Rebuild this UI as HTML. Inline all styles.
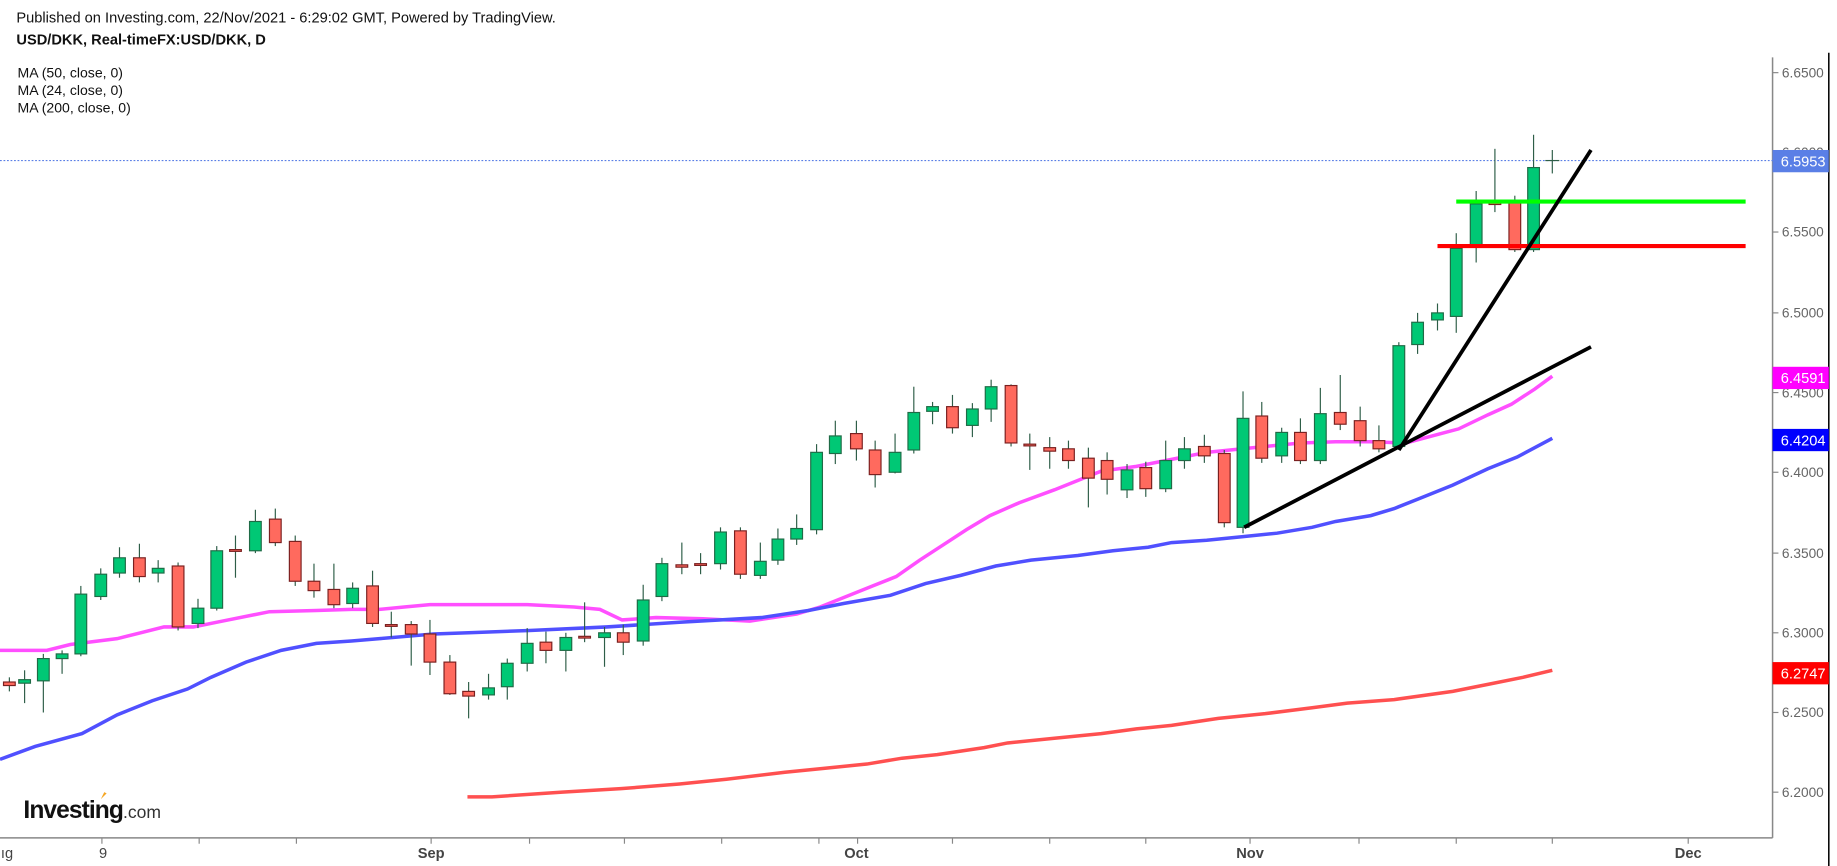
<!DOCTYPE html>
<html><head><meta charset="utf-8"><style>
html,body{margin:0;padding:0;background:#fff;}
svg{display:block;}
text{font-family:"Liberation Sans",Arial,sans-serif;}
</style></head><body>
<svg width="1837" height="866" viewBox="0 0 1568 739" preserveAspectRatio="none" xmlns="http://www.w3.org/2000/svg">
<rect width="1568" height="739" fill="#fff"/>
<text x="14" y="19" font-size="12.5" fill="#111">Published on Investing.com, 22/Nov/2021 - 6:29:02 GMT, Powered by TradingView.</text>
<text x="14" y="38" font-size="12.5" font-weight="bold" fill="#111">USD/DKK, Real-timeFX:USD/DKK, D</text>
<text x="15" y="66" font-size="12" fill="#111">MA (50, close, 0)</text>
<text x="15" y="81" font-size="12" fill="#111">MA (24, close, 0)</text>
<text x="15" y="96" font-size="12" fill="#111">MA (200, close, 0)</text>

<!-- axes -->
<line x1="1513" y1="49" x2="1513" y2="715" stroke="#888" stroke-width="1.3"/>
<line x1="1561" y1="45" x2="1561" y2="739" stroke="#000" stroke-width="1.3"/>
<line x1="0" y1="715" x2="1513" y2="715" stroke="#888" stroke-width="1.3"/>
<g stroke="#888" stroke-width="1">
<line x1="1513" y1="62" x2="1518" y2="62"/><line x1="1513" y1="130" x2="1518" y2="130"/>
<line x1="1513" y1="198" x2="1518" y2="198"/><line x1="1513" y1="267" x2="1518" y2="267"/>
<line x1="1513" y1="335" x2="1518" y2="335"/><line x1="1513" y1="403" x2="1518" y2="403"/>
<line x1="1513" y1="472" x2="1518" y2="472"/><line x1="1513" y1="540" x2="1518" y2="540"/>
<line x1="1513" y1="608" x2="1518" y2="608"/><line x1="1513" y1="676" x2="1518" y2="676"/>
<line x1="87" y1="715" x2="87" y2="720"/><line x1="170" y1="715" x2="170" y2="720"/>
<line x1="253" y1="715" x2="253" y2="720"/><line x1="368" y1="715" x2="368" y2="720"/>
<line x1="452" y1="715" x2="452" y2="720"/><line x1="533" y1="715" x2="533" y2="720"/>
<line x1="616" y1="715" x2="616" y2="720"/><line x1="699" y1="715" x2="699" y2="720"/>
<line x1="732" y1="715" x2="732" y2="720"/><line x1="813" y1="715" x2="813" y2="720"/>
<line x1="896" y1="715" x2="896" y2="720"/><line x1="978" y1="715" x2="978" y2="720"/>
<line x1="1067" y1="715" x2="1067" y2="720"/><line x1="1160" y1="715" x2="1160" y2="720"/>
<line x1="1243" y1="715" x2="1243" y2="720"/><line x1="1325" y1="715" x2="1325" y2="720"/>
<line x1="1441" y1="715" x2="1441" y2="720"/>
</g>
<g font-size="11.7" fill="#666">
<text x="1521" y="66">6.6500</text><text x="1521" y="134">6.6000</text>
<text x="1521" y="202">6.5500</text><text x="1521" y="271">6.5000</text>
<text x="1521" y="339">6.4500</text><text x="1521" y="407">6.4000</text>
<text x="1521" y="476">6.3500</text><text x="1521" y="544">6.3000</text>
<text x="1521" y="612">6.2500</text><text x="1521" y="680">6.2000</text>
</g>
<g font-size="12.5" fill="#444" text-anchor="middle">
<text x="6" y="732">ıg</text><text x="88" y="732">9</text>
<text x="368" y="732" font-weight="bold">Sep</text><text x="731" y="732" font-weight="bold">Oct</text>
<text x="1067" y="732" font-weight="bold">Nov</text><text x="1441" y="732" font-weight="bold">Dec</text>
</g>

<!-- current price line -->
<line x1="0" y1="137" x2="1513" y2="137" stroke="#5a7fe6" stroke-width="1" stroke-dasharray="1.5,1.5"/>

<!-- moving averages -->
<polyline fill="none" stroke="#ff4fff" stroke-width="3" points="0,555 40,555 60,550 100,545 120,540 140,535 165,535 190,530 230,522 270,521 300,520 324,520 345,518 367,516 400,516 450,516 490,518 512,520 531,529 560,527 600,528 640,530 680,524 700,518 720,510 745,500 765,492 785,478 805,465 825,452 845,440 870,429 900,418 925,408 940,402 970,398 1000,392 1030,386 1050,384 1080,381 1110,378 1140,377 1170,377 1200,378 1230,370 1245,366 1270,354 1290,345 1310,332 1325,321"/>
<polyline fill="none" stroke="#5050ff" stroke-width="3" points="0,648 30,637 70,626 100,610 130,598 160,588 180,578 210,565 240,555 270,549 300,547 324,545 370,541 400,540 452,538 518,535 580,531 650,527 690,521 720,515 760,508 790,498 820,491 850,483 880,478 920,474 950,470 980,467 1000,463 1030,461 1060,458 1090,455 1120,450 1140,445 1170,440 1190,434 1210,426 1240,414 1270,400 1295,390 1325,374"/>
<polyline fill="none" stroke="#ff5050" stroke-width="3" points="399,680 420,680 480,676 530,673 580,669 620,665 670,659 700,656 740,652 770,647 800,644 840,638 860,634 900,630 940,626 970,622 1000,619 1040,613 1080,609 1120,604 1150,600 1190,597 1240,590 1270,584 1300,578 1325,572"/>

<!-- candles -->
<g id="c" stroke-width="1">
<g stroke="#2e5e48">
<line x1="8" y1="578" x2="8" y2="590"/><line x1="21" y1="572" x2="21" y2="600"/><line x1="37" y1="558" x2="37" y2="608"/><line x1="53" y1="555" x2="53" y2="575"/><line x1="69" y1="500" x2="69" y2="560"/><line x1="86" y1="485" x2="86" y2="512"/><line x1="102" y1="467" x2="102" y2="493"/><line x1="119" y1="464" x2="119" y2="497"/><line x1="135" y1="478" x2="135" y2="497"/><line x1="152" y1="480" x2="152" y2="538"/><line x1="169" y1="511" x2="169" y2="536"/><line x1="185" y1="466" x2="185" y2="521"/><line x1="201" y1="457" x2="201" y2="493"/><line x1="218" y1="435" x2="218" y2="472"/><line x1="235" y1="434" x2="235" y2="466"/><line x1="252" y1="457" x2="252" y2="500"/><line x1="268" y1="481" x2="268" y2="510"/><line x1="285" y1="481" x2="285" y2="519"/><line x1="301" y1="497" x2="301" y2="519"/><line x1="318" y1="487" x2="318" y2="535"/><line x1="334" y1="522" x2="334" y2="544"/><line x1="351" y1="530" x2="351" y2="568"/><line x1="367" y1="529" x2="367" y2="576"/><line x1="384" y1="559" x2="384" y2="593"/><line x1="400" y1="582" x2="400" y2="613"/><line x1="417" y1="575" x2="417" y2="597"/><line x1="433" y1="562" x2="433" y2="597"/><line x1="450" y1="536" x2="450" y2="573"/><line x1="466" y1="539" x2="466" y2="566"/><line x1="483" y1="540" x2="483" y2="573"/><line x1="499" y1="514" x2="499" y2="548"/><line x1="516" y1="535" x2="516" y2="569"/><line x1="532" y1="533" x2="532" y2="559"/><line x1="549" y1="499" x2="549" y2="551"/><line x1="565" y1="476" x2="565" y2="513"/><line x1="582" y1="463" x2="582" y2="490"/><line x1="598" y1="472" x2="598" y2="490"/><line x1="615" y1="450" x2="615" y2="486"/><line x1="632" y1="450" x2="632" y2="494"/><line x1="649" y1="463" x2="649" y2="494"/><line x1="664" y1="451" x2="664" y2="482"/><line x1="680" y1="439" x2="680" y2="465"/><line x1="697" y1="379" x2="697" y2="456"/><line x1="713" y1="359" x2="713" y2="396"/><line x1="731" y1="359" x2="731" y2="393"/><line x1="747" y1="376" x2="747" y2="416"/><line x1="764" y1="370" x2="764" y2="404"/><line x1="780" y1="330" x2="780" y2="387"/><line x1="796" y1="343" x2="796" y2="362"/><line x1="813" y1="337" x2="813" y2="370"/><line x1="830" y1="344" x2="830" y2="373"/><line x1="846" y1="324" x2="846" y2="360"/><line x1="863" y1="328" x2="863" y2="381"/><line x1="879" y1="370" x2="879" y2="401"/><line x1="896" y1="373" x2="896" y2="400"/><line x1="912" y1="376" x2="912" y2="400"/><line x1="929" y1="382" x2="929" y2="433"/><line x1="945" y1="386" x2="945" y2="422"/><line x1="962" y1="396" x2="962" y2="425"/><line x1="978" y1="394" x2="978" y2="424"/><line x1="995" y1="376" x2="995" y2="420"/><line x1="1011" y1="373" x2="1011" y2="400"/><line x1="1028" y1="371" x2="1028" y2="395"/><line x1="1045" y1="384" x2="1045" y2="450"/><line x1="1061" y1="334" x2="1061" y2="455"/><line x1="1077" y1="343" x2="1077" y2="395"/><line x1="1094" y1="365" x2="1094" y2="395"/><line x1="1110" y1="357" x2="1110" y2="396"/><line x1="1127" y1="331" x2="1127" y2="396"/><line x1="1144" y1="320" x2="1144" y2="367"/><line x1="1161" y1="347" x2="1161" y2="381"/><line x1="1177" y1="363" x2="1177" y2="386"/><line x1="1194" y1="292" x2="1194" y2="384"/><line x1="1210" y1="267" x2="1210" y2="302"/><line x1="1227" y1="259" x2="1227" y2="282"/><line x1="1243" y1="199" x2="1243" y2="284"/><line x1="1260" y1="163" x2="1260" y2="224"/><line x1="1276" y1="127" x2="1276" y2="181"/><line x1="1293" y1="167" x2="1293" y2="215"/><line x1="1309" y1="115" x2="1309" y2="215"/><line x1="1325" y1="128" x2="1325" y2="148"/>
</g>
<g fill="#00c875" stroke="#1f6b46">
<rect x="16" y="580" width="10" height="3"/><rect x="32" y="562" width="10" height="19"/><rect x="48" y="558" width="10" height="4"/><rect x="64" y="507" width="10" height="51"/><rect x="81" y="490" width="10" height="19"/><rect x="97" y="476" width="10" height="13"/><rect x="130" y="485" width="10" height="4"/><rect x="164" y="519" width="10" height="13"/><rect x="180" y="470" width="10" height="49"/><rect x="213" y="445" width="10" height="25"/><rect x="296" y="502" width="10" height="13"/><rect x="412" y="587" width="10" height="6"/><rect x="428" y="566" width="10" height="20"/><rect x="445" y="549" width="10" height="17"/><rect x="478" y="544" width="10" height="11"/><rect x="511" y="540" width="10" height="4"/><rect x="544" y="512" width="10" height="35"/><rect x="560" y="481" width="10" height="28"/><rect x="610" y="454" width="10" height="27"/><rect x="644" y="479" width="10" height="12"/><rect x="659" y="460" width="10" height="18"/><rect x="675" y="451" width="10" height="9"/><rect x="692" y="386" width="10" height="66"/><rect x="708" y="372" width="10" height="15"/><rect x="759" y="386" width="10" height="17"/><rect x="775" y="352" width="10" height="32"/><rect x="791" y="347" width="10" height="4"/><rect x="825" y="349" width="10" height="14"/><rect x="841" y="330" width="10" height="19"/><rect x="957" y="401" width="10" height="17"/><rect x="990" y="393" width="10" height="24"/><rect x="1006" y="383" width="10" height="10"/><rect x="1056" y="357" width="10" height="93"/><rect x="1089" y="369" width="10" height="20"/><rect x="1122" y="353" width="10" height="40"/><rect x="1189" y="295" width="10" height="86"/><rect x="1205" y="275" width="10" height="19"/><rect x="1222" y="267" width="10" height="6"/><rect x="1238" y="212" width="10" height="58"/><rect x="1255" y="174" width="10" height="36"/><rect x="1304" y="143" width="10" height="70"/>
</g>
<g fill="#ff6a5e" stroke="#7a2020">
<rect x="3" y="582" width="10" height="3"/><rect x="114" y="476" width="10" height="16"/><rect x="147" y="483" width="10" height="52"/><rect x="196" y="469" width="10" height="1.5"/><rect x="230" y="443" width="10" height="20"/><rect x="247" y="462" width="10" height="34"/><rect x="263" y="496" width="10" height="8"/><rect x="280" y="503" width="10" height="13"/><rect x="313" y="500" width="10" height="32"/><rect x="329" y="533" width="10" height="1.5"/><rect x="346" y="533" width="10" height="8"/><rect x="362" y="541" width="10" height="24"/><rect x="379" y="565" width="10" height="27"/><rect x="395" y="590" width="10" height="4"/><rect x="461" y="548" width="10" height="7"/><rect x="494" y="543" width="10" height="1.5"/><rect x="527" y="540" width="10" height="8"/><rect x="577" y="482" width="10" height="2"/><rect x="593" y="481" width="10" height="1.5"/><rect x="627" y="453" width="10" height="37"/><rect x="726" y="370" width="10" height="13"/><rect x="742" y="384" width="10" height="21"/><rect x="808" y="347" width="10" height="18"/><rect x="858" y="329" width="10" height="49"/><rect x="874" y="379" width="10" height="1.5"/><rect x="891" y="382" width="10" height="3"/><rect x="907" y="383" width="10" height="10"/><rect x="924" y="391" width="10" height="17"/><rect x="940" y="393" width="10" height="16"/><rect x="973" y="399" width="10" height="18"/><rect x="1023" y="381" width="10" height="8"/><rect x="1040" y="387" width="10" height="59"/><rect x="1072" y="355" width="10" height="36"/><rect x="1105" y="369" width="10" height="24"/><rect x="1139" y="352" width="10" height="10"/><rect x="1156" y="359" width="10" height="17"/><rect x="1172" y="376" width="10" height="7"/><rect x="1271" y="173" width="10" height="1.5"/><rect x="1288" y="173" width="10" height="40"/>
</g>
<line x1="1319" y1="137" x2="1331" y2="137" stroke="#2e5e48" stroke-width="1"/>
</g>

<!-- drawings -->
<line x1="1243" y1="172" x2="1490" y2="172" stroke="#00ff00" stroke-width="3.5"/>
<line x1="1227" y1="210" x2="1490" y2="210" stroke="#ff0000" stroke-width="3.5"/>
<line x1="1194" y1="384" x2="1358" y2="128" stroke="#000" stroke-width="3.2"/>
<line x1="1062" y1="450" x2="1358" y2="296" stroke="#000" stroke-width="3.2"/>

<!-- price labels -->
<rect x="1513" y="128" width="48" height="19" fill="#5a7fe6"/>
<text x="1520" y="142" font-size="12.5" fill="#fff">6.5953</text>
<rect x="1513" y="313" width="48" height="19" fill="#ff00ff"/>
<text x="1520" y="327" font-size="12.5" fill="#fff">6.4591</text>
<rect x="1513" y="366" width="48" height="19" fill="#0000ff"/>
<text x="1520" y="380" font-size="12.5" fill="#fff">6.4204</text>
<rect x="1513" y="565" width="48" height="19" fill="#ff0000"/>
<text x="1520" y="579" font-size="12.5" fill="#fff">6.2747</text>

<!-- logo -->
<text x="20" y="698" font-size="21" font-weight="bold" fill="#111" letter-spacing="-0.8">Investing<tspan font-size="15" font-weight="normal" fill="#333" letter-spacing="0">.com</tspan></text>
<path d="M86,682 l3,-6 l2,1 z" fill="#f5a623"/>
</svg>
</body></html>
